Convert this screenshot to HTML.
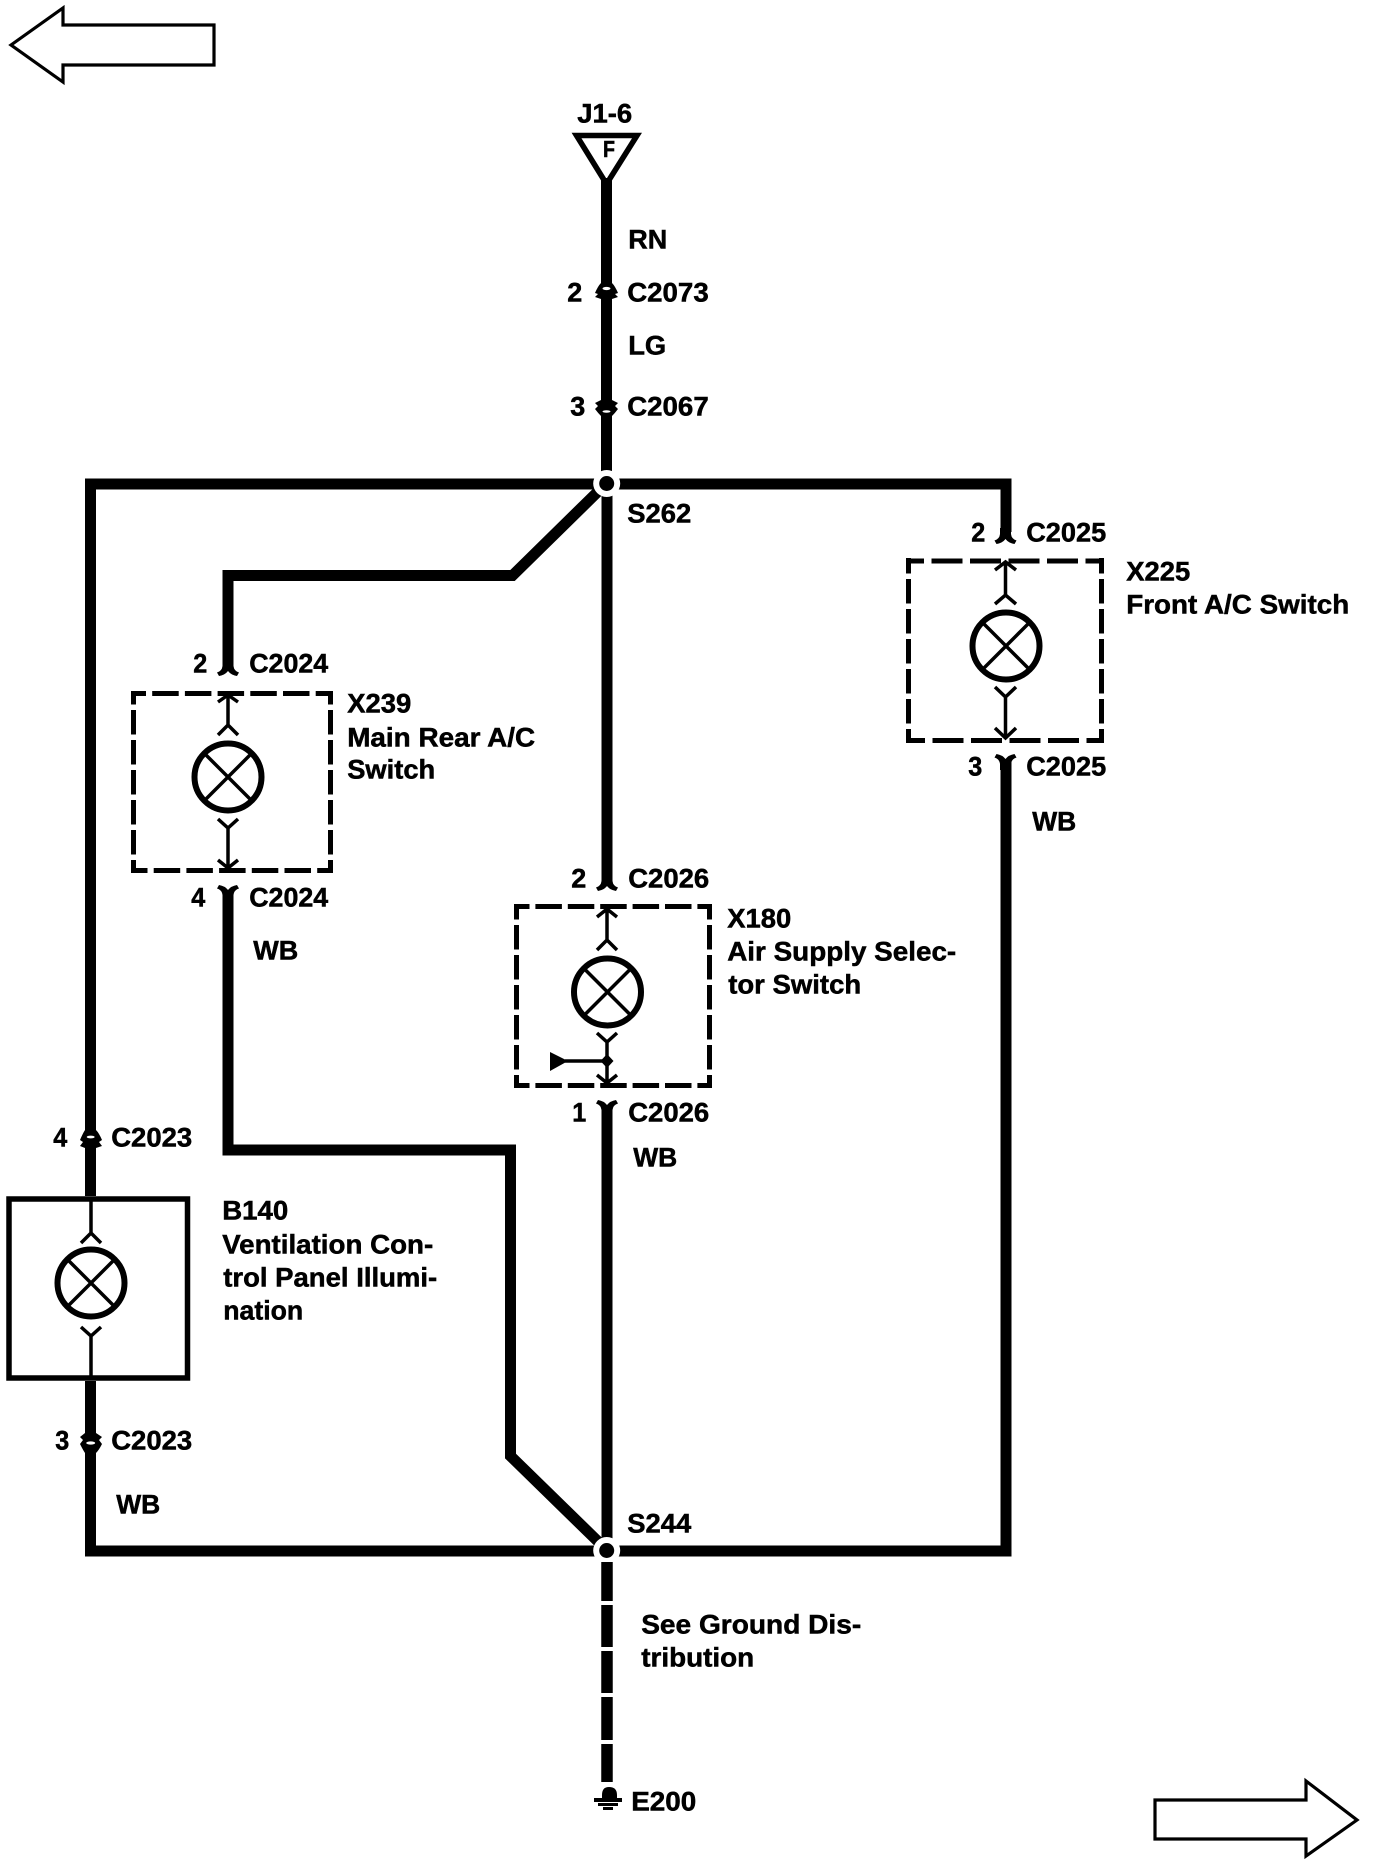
<!DOCTYPE html>
<html lang="en">
<head>
<meta charset="utf-8">
<title>Wiring diagram</title>
<style>
html,body{margin:0;padding:0;background:#fff}
svg{display:block}
text{font-family:"Liberation Sans",Arial,sans-serif;font-weight:700;font-size:26.5px;fill:#000;stroke:#000;stroke-width:.5px}
.w{fill:none;stroke:#000;stroke-width:11;stroke-linejoin:miter}
.t{fill:none;stroke:#000;stroke-width:3.5;stroke-linecap:butt}
.c{fill:#fff;stroke:#000;stroke-width:6}
.d{stroke:#000;stroke-width:5;fill:none}
</style>
</head>
<body>
<svg width="1376" height="1866" viewBox="0 0 1376 1866" xmlns="http://www.w3.org/2000/svg">
<rect width="1376" height="1866" fill="#fff"/>

<!-- page arrows -->
<polygon points="11,45 63,8 63,25 214,25 214,65 63,65 63,82" fill="#fff" stroke="#000" stroke-width="3.2"/>
<polygon points="1155,1800 1306,1800 1306,1781 1357,1820 1306,1856 1306,1839 1155,1839" fill="#fff" stroke="#000" stroke-width="3.2"/>

<!-- fuse triangle -->
<polygon points="576.5,135.5 637,135.5 606.5,184" fill="#fff" stroke="#000" stroke-width="5.5"/>
<text x="603" y="157" style="font-size:23px" textLength="12" lengthAdjust="spacingAndGlyphs">F</text>

<!-- wires -->
<path class="w" d="M606.5 178V484"/>
<path class="w" d="M607 484V880"/>
<path class="w" d="M607 1108V1551"/>
<path class="w" d="M90.5 1196V484H1006V532"/>
<path class="w" d="M90.5 1381V1551H1006V762"/>
<path class="w" d="M228 665V575.5H512.5L606.7 483"/>
<path class="w" d="M228 892V1150H510.5V1456L606.7 1550"/>

<!-- splices -->
<circle cx="606.7" cy="483.5" r="13.5" fill="#fff"/>
<circle cx="606.7" cy="483.5" r="7.5" fill="#000"/>
<circle cx="606.7" cy="1550.5" r="13.5" fill="#fff"/>
<circle cx="606.7" cy="1550.5" r="7.5" fill="#000"/>

<!-- ground dashed -->
<path d="M607 1562V1601M607 1605V1647M607 1651V1693M607 1697V1740M607 1744V1782" stroke="#000" stroke-width="11.5" fill="none"/>
<path d="M602 1800V1795Q602 1787 609 1787Q617 1787 617 1795V1800Z" fill="#000"/>
<rect x="594" y="1798" width="28" height="4" fill="#000"/>
<rect x="598" y="1803" width="20" height="3" fill="#000"/>
<rect x="603" y="1807" width="10" height="3" fill="#000"/>

<!-- inline connectors -->
<path d="M595 293Q598 286 601 283H612Q615 286 618 293L615 294L618 297L612 299H601L595 297L598 294Z" fill="#000"/>
<ellipse cx="606.5" cy="288.5" rx="4" ry="1.6" fill="#fff"/>
<path d="M595 403L598 406L595 409Q598 413 601 416H612Q615 413 618 409L615 406L618 403L612 400H601Z" fill="#000"/>
<ellipse cx="606.5" cy="411.5" rx="4" ry="1.3" fill="#fff"/>
<path d="M80 1140Q83 1133 85 1130H96Q99 1133 102 1140L99 1142L102 1146L96 1148H85L80 1146L83 1142Z" fill="#000"/>
<ellipse cx="90.7" cy="1137" rx="4" ry="1.4" fill="#fff"/>
<path d="M80 1437L83 1440L80 1444Q83 1450 85 1453H96Q99 1450 102 1444L99 1440L102 1437L96 1433H85Z" fill="#000"/>
<ellipse cx="90.7" cy="1443" rx="4.5" ry="1.6" fill="#fff"/>

<!-- Y connectors: flared wire ends -->
<path transform="translate(228,675)" d="M-5.5 -15V-9Q-6 -4 -11 -2.5L-9 1Q-3 0 0 -4Q3 0 9 1L11 -2.5Q6 -4 5.5 -9V-15Z" fill="#000"/>
<path transform="translate(228,886)" d="M-5.5 15V9Q-6 4 -11 2.5L-9 -1Q-3 0 0 4Q3 0 9 -1L11 2.5Q6 4 5.5 9V15Z" fill="#000"/>
<path transform="translate(607,890)" d="M-5.5 -15V-9Q-6 -4 -11 -2.5L-9 1Q-3 0 0 -4Q3 0 9 1L11 -2.5Q6 -4 5.5 -9V-15Z" fill="#000"/>
<path transform="translate(607,1101)" d="M-5.5 15V9Q-6 4 -11 2.5L-9 -1Q-3 0 0 4Q3 0 9 -1L11 2.5Q6 4 5.5 9V15Z" fill="#000"/>
<path transform="translate(1005.5,543)" d="M-5.5 -15V-9Q-6 -4 -11 -2.5L-9 1Q-3 0 0 -4Q3 0 9 1L11 -2.5Q6 -4 5.5 -9V-15Z" fill="#000"/>
<path transform="translate(1005.5,755)" d="M-5.5 15V9Q-6 4 -11 2.5L-9 -1Q-3 0 0 4Q3 0 9 -1L11 2.5Q6 4 5.5 9V15Z" fill="#000"/>

<!-- X239 box -->
<line class="d" x1="131" y1="693.5" x2="333" y2="693.5" stroke-dasharray="26.5 6.2" stroke-dashoffset="11.5"/>
<line class="d" x1="131" y1="870.5" x2="333" y2="870.5" stroke-dasharray="26.5 6.2" stroke-dashoffset="10"/>
<line class="d" x1="133.5" y1="691" x2="133.5" y2="873" stroke-dasharray="24.5 5.5" stroke-dashoffset="11"/>
<line class="d" x1="330.5" y1="691" x2="330.5" y2="873" stroke-dasharray="24.5 5.5" stroke-dashoffset="11"/>
<path class="t" d="M228 693V725M218 735L228 725L238 735M218 702L228 695L238 702M218 819L228 828L238 819M228 828V871M218 860L228 868L238 860"/>
<circle class="c" cx="228" cy="777" r="33.5"/>
<path class="t" d="M205 754L251 800M251 754L205 800"/>

<!-- X225 box -->
<line class="d" x1="906" y1="561" x2="1104" y2="561" stroke-dasharray="31 7.5" stroke-dashoffset="13"/>
<line class="d" x1="906" y1="740.5" x2="1104" y2="740.5" stroke-dasharray="31 7.5" stroke-dashoffset="12"/>
<line class="d" x1="908.5" y1="558" x2="908.5" y2="743" stroke-dasharray="24.5 5.5" stroke-dashoffset="9"/>
<line class="d" x1="1101.5" y1="558" x2="1101.5" y2="743" stroke-dasharray="24.5 5.5" stroke-dashoffset="9"/>
<path class="t" d="M1005.5 561V595M995 604L1005.5 595L1016 604M995 570L1005.5 562L1016 570M995 687L1005.5 697L1016 687M1005.5 697V739M995 728L1005.5 738L1016 728"/>
<circle class="c" cx="1006" cy="646" r="33.5"/>
<path class="t" d="M983 623L1029 669M1029 623L983 669"/>

<!-- X180 box -->
<line class="d" x1="514" y1="906.5" x2="712" y2="906.5" stroke-dasharray="26.5 5.9" stroke-dashoffset="11"/>
<line class="d" x1="514" y1="1085.5" x2="712" y2="1085.5" stroke-dasharray="26.5 5.9" stroke-dashoffset="11"/>
<line class="d" x1="516.5" y1="904" x2="516.5" y2="1088" stroke-dasharray="24.5 5.5" stroke-dashoffset="9"/>
<line class="d" x1="709.5" y1="904" x2="709.5" y2="1088" stroke-dasharray="24.5 5.5" stroke-dashoffset="9"/>
<path class="t" d="M607 907V940M597 950L607 940L617 950M597 917L607 909L617 917M597 1033L607 1042L617 1033M607 1042V1085M597 1075L607 1083L617 1075M565 1061H607"/>
<circle class="c" cx="607.5" cy="992" r="33.5"/>
<path class="t" d="M584.5 969L630.5 1015M630.5 969L584.5 1015"/>
<polygon points="607,1054 613.5,1061 607,1068 600.5,1061" fill="#000"/>
<polygon points="550,1052 568,1061 550,1071" fill="#000"/>

<!-- B140 box -->
<rect x="9" y="1199" width="178.5" height="179" fill="none" stroke="#000" stroke-width="5.5"/>
<path class="t" d="M91 1199V1233M81 1243L91 1233L101 1243M81 1327L91 1336L101 1327M91 1336V1378"/>
<circle class="c" cx="91" cy="1283" r="33.5"/>
<path class="t" d="M68 1260L114 1306M114 1260L68 1306"/>

<!-- labels -->
<g transform="translate(-0.8,-0.4)">
<text x="578" y="123" textLength="55" lengthAdjust="spacingAndGlyphs">J1-6</text>
<text x="629" y="249" textLength="39" lengthAdjust="spacingAndGlyphs">RN</text>
<text x="568" y="302" textLength="15" lengthAdjust="spacingAndGlyphs">2</text>
<text x="628" y="302" textLength="81.5" lengthAdjust="spacingAndGlyphs">C2073</text>
<text x="629" y="355" textLength="38" lengthAdjust="spacingAndGlyphs">LG</text>
<text x="571" y="416" textLength="15" lengthAdjust="spacingAndGlyphs">3</text>
<text x="628" y="416" textLength="81.5" lengthAdjust="spacingAndGlyphs">C2067</text>
<text x="628" y="523" textLength="64" lengthAdjust="spacingAndGlyphs">S262</text>

<text x="972" y="542" textLength="14" lengthAdjust="spacingAndGlyphs">2</text>
<text x="1027" y="542" textLength="80" lengthAdjust="spacingAndGlyphs">C2025</text>
<text x="1127" y="581" textLength="64" lengthAdjust="spacingAndGlyphs">X225</text>
<text x="1127" y="614" textLength="223" lengthAdjust="spacingAndGlyphs">Front A/C Switch</text>
<text x="969" y="776" textLength="14" lengthAdjust="spacingAndGlyphs">3</text>
<text x="1027" y="776" textLength="80" lengthAdjust="spacingAndGlyphs">C2025</text>
<text x="1033" y="831" textLength="44" lengthAdjust="spacingAndGlyphs">WB</text>

<text x="194" y="673" textLength="14" lengthAdjust="spacingAndGlyphs">2</text>
<text x="250" y="673" textLength="79" lengthAdjust="spacingAndGlyphs">C2024</text>
<text x="348" y="713" textLength="64" lengthAdjust="spacingAndGlyphs">X239</text>
<text x="348" y="747" textLength="188" lengthAdjust="spacingAndGlyphs">Main Rear A/C</text>
<text x="348" y="779" textLength="88" lengthAdjust="spacingAndGlyphs">Switch</text>
<text x="192" y="907" textLength="14" lengthAdjust="spacingAndGlyphs">4</text>
<text x="250" y="907" textLength="79" lengthAdjust="spacingAndGlyphs">C2024</text>
<text x="254" y="960" textLength="45" lengthAdjust="spacingAndGlyphs">WB</text>

<text x="572" y="888" textLength="15" lengthAdjust="spacingAndGlyphs">2</text>
<text x="629" y="888" textLength="81" lengthAdjust="spacingAndGlyphs">C2026</text>
<text x="728" y="928" textLength="64" lengthAdjust="spacingAndGlyphs">X180</text>
<text x="728" y="961" textLength="229" lengthAdjust="spacingAndGlyphs">Air Supply Selec-</text>
<text x="729" y="994" textLength="133" lengthAdjust="spacingAndGlyphs">tor Switch</text>
<text x="573" y="1122" textLength="14" lengthAdjust="spacingAndGlyphs">1</text>
<text x="629" y="1122" textLength="81" lengthAdjust="spacingAndGlyphs">C2026</text>
<text x="634" y="1167" textLength="44" lengthAdjust="spacingAndGlyphs">WB</text>

<text x="54" y="1147" textLength="14" lengthAdjust="spacingAndGlyphs">4</text>
<text x="112" y="1147" textLength="81" lengthAdjust="spacingAndGlyphs">C2023</text>
<text x="223" y="1220" textLength="66" lengthAdjust="spacingAndGlyphs">B140</text>
<text x="223" y="1254" textLength="211" lengthAdjust="spacingAndGlyphs">Ventilation Con-</text>
<text x="224" y="1287" textLength="214" lengthAdjust="spacingAndGlyphs">trol Panel Illumi-</text>
<text x="224" y="1320" textLength="80" lengthAdjust="spacingAndGlyphs">nation</text>
<text x="56" y="1450" textLength="14" lengthAdjust="spacingAndGlyphs">3</text>
<text x="112" y="1450" textLength="81" lengthAdjust="spacingAndGlyphs">C2023</text>
<text x="117" y="1514" textLength="44" lengthAdjust="spacingAndGlyphs">WB</text>

<text x="628" y="1533" textLength="64" lengthAdjust="spacingAndGlyphs">S244</text>
<text x="642" y="1634" textLength="220" lengthAdjust="spacingAndGlyphs">See Ground Dis-</text>
<text x="642" y="1667" textLength="113" lengthAdjust="spacingAndGlyphs">tribution</text>
<text x="632" y="1811" textLength="65" lengthAdjust="spacingAndGlyphs">E200</text>
</g>
</svg>
</body>
</html>
